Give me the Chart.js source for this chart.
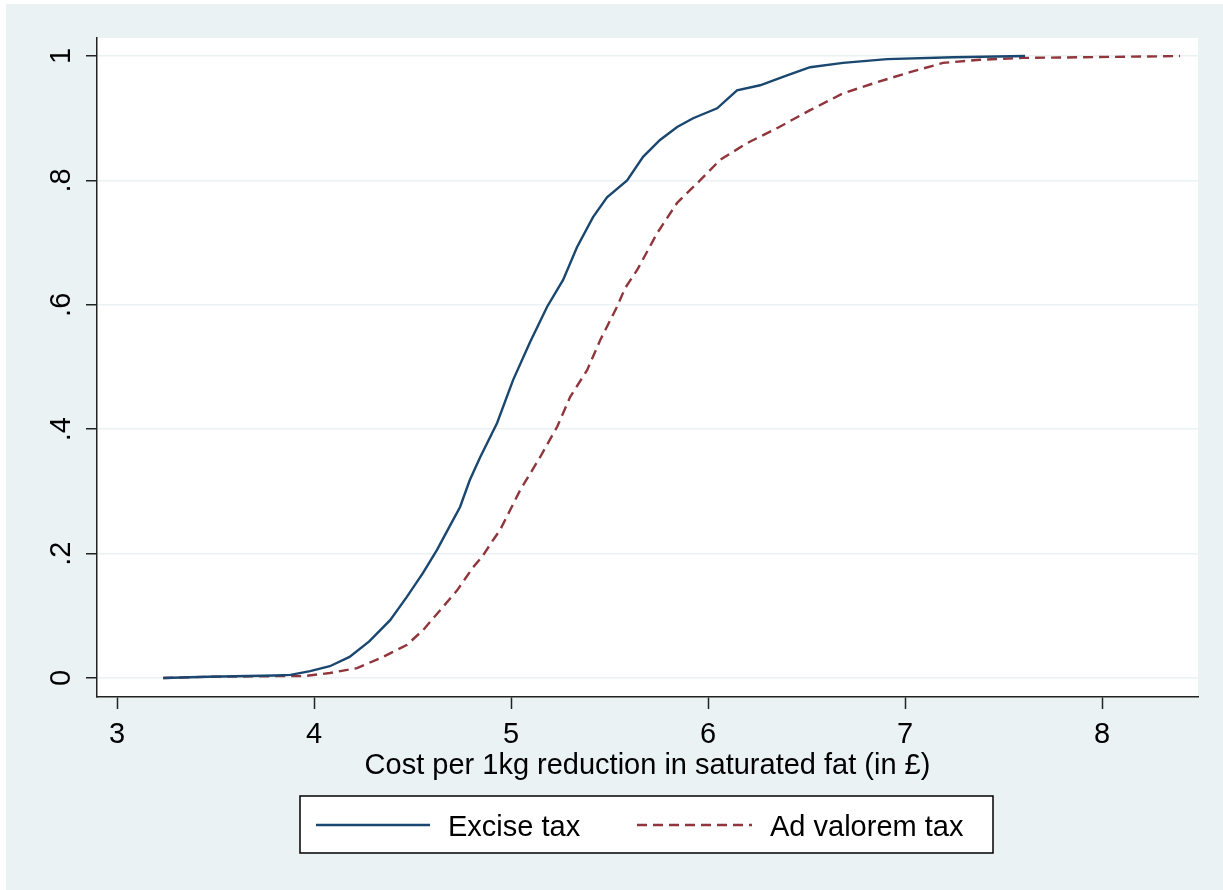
<!DOCTYPE html>
<html>
<head>
<meta charset="utf-8">
<script src="https://cdn.jsdelivr.net/npm/chart.js@4/dist/chart.umd.min.js"></script>
<style>
  html, body { margin: 0; padding: 0; background: #fff; }
  #wrap { width: 1223px; height: 890px; position: relative; }
</style>
</head>
<body>
<div id="wrap"><canvas id="cdfChart" width="1223" height="890"></canvas></div>
<script>
const exciseCost = [3.234, 3.46, 3.80, 3.88, 3.98, 4.08, 4.18, 4.28, 4.386, 4.47, 4.553, 4.624, 4.69, 4.741, 4.79, 4.843, 4.929, 5.01, 5.096, 5.183, 5.264, 5.335, 5.416, 5.487, 5.589, 5.67, 5.756, 5.843, 5.924, 6.046, 6.147, 6.264, 6.401, 6.518, 6.685, 6.909, 7.244, 7.609];
const exciseCdf = [0, 0.002, 0.004, 0.005, 0.011, 0.019, 0.034, 0.059, 0.093, 0.13, 0.169, 0.206, 0.245, 0.275, 0.318, 0.355, 0.41, 0.479, 0.54, 0.597, 0.64, 0.693, 0.741, 0.773, 0.80, 0.838, 0.865, 0.886, 0.90, 0.916, 0.945, 0.953, 0.969, 0.982, 0.989, 0.995, 0.998, 1.0];

const advalCost = [3.234, 3.46, 3.80, 3.944, 4.08, 4.218, 4.35, 4.47, 4.553, 4.64, 4.726, 4.807, 4.853, 4.909, 4.944, 5.046, 5.147, 5.234, 5.30, 5.386, 5.452, 5.538, 5.579, 5.64, 5.741, 5.843, 5.959, 6.061, 6.198, 6.35, 6.518, 6.685, 6.858, 7.025, 7.193, 7.38, 7.60, 7.89, 8.396];
const advalCdf = [0, 0.002, 0.003, 0.003, 0.008, 0.016, 0.034, 0.053, 0.077, 0.109, 0.141, 0.178, 0.195, 0.222, 0.238, 0.302, 0.355, 0.404, 0.452, 0.495, 0.543, 0.597, 0.627, 0.656, 0.715, 0.764, 0.80, 0.833, 0.86, 0.884, 0.913, 0.94, 0.958, 0.974, 0.989, 0.994, 0.997, 0.998, 1.0];

const xTicks = [3, 4, 5, 6, 7, 8];
const yTicks = [0, 0.2, 0.4, 0.6, 0.8, 1];
const yTickLabels = ['0', '.2', '.4', '.6', '.8', '1'];
const seriesNames = ['Excise tax', 'Ad valorem tax'];
const xTitle = 'Cost per 1kg reduction in saturated fat (in £)';

const BLUE = '#1a476f';
const RED = '#90353b';
const BG = '#eaf2f3';
const FONT = '"Liberation Sans", Arial, Helvetica, sans-serif';

const toPoints = (xs, ys) => xs.map((x, i) => ({ x: x, y: ys[i] }));

const stataLook = {
    id: 'stataLook',
    beforeDraw(chart) {
        const { ctx, chartArea: a } = chart;
        ctx.save();
        ctx.fillStyle = '#fff';
        ctx.fillRect(0, 0, chart.width, chart.height);
        ctx.fillStyle = BG;
        ctx.fillRect(6, 4, chart.width - 6, chart.height - 4);
        ctx.fillStyle = '#fff';
        ctx.fillRect(a.left, a.top, a.right - a.left, a.bottom - a.top);
        ctx.restore();
    },
    afterDraw(chart) {
        const { ctx, chartArea: a, scales } = chart;
        ctx.save();
        ctx.fillStyle = '#000';
        ctx.font = '29px ' + FONT;
        // x tick labels
        ctx.textAlign = 'center';
        ctx.textBaseline = 'alphabetic';
        scales.x.ticks.forEach(t => {
            ctx.fillText(String(t.value), scales.x.getPixelForValue(t.value), 743);
        });
        // y tick labels, rotated like Stata
        scales.y.ticks.forEach(t => {
            const idx = yTicks.indexOf(t.value);
            const label = idx >= 0 ? yTickLabels[idx] : String(t.value);
            ctx.save();
            ctx.translate(70, scales.y.getPixelForValue(t.value));
            ctx.rotate(-Math.PI / 2);
            ctx.fillText(label, 0, 0);
            ctx.restore();
        });
        // x axis title
        ctx.fillText(xTitle, (a.left + a.right) / 2, 774);

        // legend box
        const bx = 300, by = 796, bw = 693, bh = 57;
        ctx.fillStyle = '#fff';
        ctx.fillRect(bx, by, bw, bh);
        ctx.strokeStyle = '#000';
        ctx.lineWidth = 1.5;
        ctx.strokeRect(bx, by, bw, bh);
        const ly = 825;
        ctx.lineWidth = 2.4;
        ctx.strokeStyle = BLUE;
        ctx.beginPath(); ctx.moveTo(316, ly); ctx.lineTo(430, ly); ctx.stroke();
        ctx.strokeStyle = RED;
        ctx.setLineDash([10, 6]);
        ctx.beginPath(); ctx.moveTo(637, ly); ctx.lineTo(752, ly); ctx.stroke();
        ctx.setLineDash([]);
        ctx.fillStyle = '#000';
        ctx.textAlign = 'left';
        ctx.fillText(seriesNames[0], 448, 836);
        ctx.fillText(seriesNames[1], 770, 836);
        ctx.restore();
    }
};

const ctx = document.getElementById('cdfChart').getContext('2d');
new Chart(ctx, {
    type: 'line',
    data: {
        datasets: [{
            label: seriesNames[0],
            data: toPoints(exciseCost, exciseCdf),
            borderColor: BLUE,
            borderWidth: 2.4,
            pointRadius: 0,
            tension: 0,
            fill: false
        }, {
            label: seriesNames[1],
            data: toPoints(advalCost, advalCdf),
            borderColor: RED,
            borderWidth: 2.4,
            borderDash: [10, 6],
            pointRadius: 0,
            tension: 0,
            fill: false
        }]
    },
    options: {
        responsive: false,
        animation: false,
        layout: { padding: { left: 0, top: 38, right: 25, bottom: 173 } },
        scales: {
            x: {
                type: 'linear',
                min: 2.898, max: 8.487,
                afterBuildTicks: s => { s.ticks = xTicks.map(v => ({ value: v })); },
                afterFit: s => { s.height = 20; },
                ticks: { display: false },
                grid: { drawOnChartArea: false, drawTicks: true, tickLength: 12, tickColor: '#222', tickWidth: 1.5 },
                border: { display: true, color: '#222', width: 1.5 }
            },
            y: {
                type: 'linear',
                min: -0.0305, max: 1.029,
                afterBuildTicks: s => { s.ticks = yTicks.map(v => ({ value: v })); },
                afterFit: s => { s.width = 97; },
                ticks: { display: false },
                grid: { color: BG, lineWidth: 1.5, drawTicks: true, tickLength: 11, tickColor: '#222', tickWidth: 1.5 },
                border: { display: true, color: '#222', width: 1.5 }
            }
        },
        plugins: {
            legend: { display: false },
            tooltip: { enabled: false },
            title: { display: false }
        }
    },
    plugins: [stataLook]
});
</script>
</body>
</html>
